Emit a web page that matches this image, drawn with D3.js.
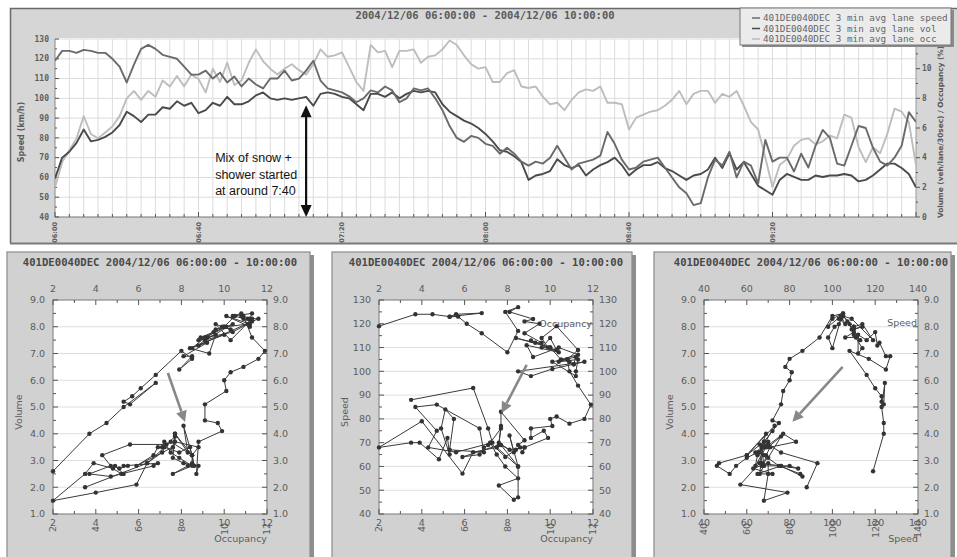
<!DOCTYPE html>
<html>
<head>
<meta charset="utf-8">
<title>401DE0040DEC 2004/12/06 06:00 - 10:00</title>
<script src="https://cdn.jsdelivr.net/npm/d3@7/dist/d3.min.js"></script>
<style>
  html, body { margin: 0; padding: 0; background: #ffffff; }
  svg { display: block; }
</style>
</head>
<body>
<svg id="chart" width="957" height="557"></svg>
<script>
// Loop detector 401DE0040DEC, 2004/12/06 06:00-10:00, one sample every 2 minutes
const detector = "401DE0040DEC";
const sampleMinutes = d3.range(0, 241, 2); // minutes after 06:00

// 3-min average lane speed (km/h)
const speed = [
  119, 124, 124, 123, 124.5, 124, 123, 123, 120, 116,
  108, 117, 125, 127, 125, 122, 121, 120, 116, 112,
  112, 114, 110, 113, 108, 111, 106, 110, 107, 105,
  110, 110, 114, 109, 110, 114, 119, 109, 105, 104,
  103, 101, 98, 100, 104, 103, 106, 104, 98, 100,
  105, 104, 105, 100, 94, 86, 80, 78, 81, 80,
  77, 76, 72, 75, 72, 68, 66, 68, 67, 70,
  76, 70, 64, 67, 68, 69, 71, 83, 77, 69,
  64, 65, 68, 69, 70, 65, 60, 55, 52, 46,
  47, 60, 69, 66, 73, 60, 68, 66, 57, 79,
  68, 70, 70, 63, 72, 65, 76, 84, 80, 67,
  66, 76, 86, 85, 75, 68, 66, 70, 76, 93,
  88
];

// 3-min average lane volume (veh/lane/30sec)
const volume = [
  2.6, 4.0, 4.4, 5.0, 5.9, 5.1, 5.2, 5.4, 5.7, 6.2,
  7.1, 6.8, 6.4, 6.9, 6.9, 7.4, 7.3, 7.8, 7.5, 7.7,
  7.0, 7.2, 7.7, 7.5, 8.1, 7.6, 7.6, 7.8, 8.2, 8.4,
  8.0, 7.9, 8.0, 7.9, 8.0, 8.1, 7.5, 8.3, 8.4, 8.3,
  8.1, 8.0, 7.6, 7.2, 8.3, 8.3, 8.1, 8.4, 8.0, 8.3,
  8.5, 8.4, 8.5, 8.4, 7.6, 7.1, 6.8, 6.5, 6.3, 6.0,
  5.6, 5.1, 4.5, 4.4, 4.1, 3.7, 2.5, 2.8, 2.9, 3.1,
  3.9, 3.5, 3.3, 3.5, 2.8, 3.2, 3.5, 3.7, 4.0, 3.5,
  2.8, 3.2, 3.5, 3.5, 3.7, 3.3, 3.1, 2.8, 2.5, 2.8,
  2.9, 3.2, 4.0, 3.3, 4.3, 3.2, 3.7, 2.9, 2.1, 1.8,
  1.5, 2.5, 2.9, 2.7, 2.5, 2.5, 2.8, 2.7, 2.8, 2.8,
  2.9, 2.8, 2.4, 2.5, 2.8, 3.2, 3.6, 3.6, 3.3, 2.9,
  2.0
];

// 3-min average lane occupancy (%)
const occupancy = [
  2.0, 3.7, 4.5, 5.3, 6.8, 5.6, 5.3, 5.7, 6.1, 6.8,
  8.0, 8.5, 7.9, 8.5, 8.1, 9.2, 8.8, 9.5, 8.8, 9.6,
  9.3, 8.4, 10.0, 9.1, 10.4, 8.9, 9.2, 10.4, 11.3, 10.5,
  10.0, 9.6, 10.0, 10.3, 9.9, 9.6, 10.3, 11.3, 10.8, 10.9,
  11.1, 10.1, 9.1, 8.5, 11.6, 11.1, 11.2, 10.1, 11.2, 11.2,
  11.3, 10.4, 10.8, 10.9, 11.3, 11.9, 11.6, 10.9, 10.3, 10.0,
  10.1, 9.1, 9.1, 9.7, 9.9, 8.8, 8.7, 8.8, 8.1, 7.6,
  7.7, 7.2, 7.9, 8.4, 8.6, 8.5, 8.8, 7.7, 7.7, 7.6,
  5.9, 6.7, 6.9, 7.1, 7.2, 7.5, 7.9, 8.5, 7.6, 8.3,
  8.5, 8.5, 7.7, 8.3, 8.1, 8.5, 7.5, 6.4, 5.9, 4.0,
  2.0, 3.5, 3.9, 4.8, 5.2, 5.3, 4.9, 5.1, 5.5, 5.3,
  6.9, 6.7, 4.7, 3.7, 4.7, 4.3, 5.6, 7.3, 7.1, 6.4,
  3.5
];

// axis ticks and labels
const timeTickMinutes = [0, 40, 80, 120, 160, 200];
const timeTickLabels = ["06:00", "06:40", "07:20", "08:00", "08:40", "09:20"];
const speedAxisTicks = [40, 50, 60, 70, 80, 90, 100, 110, 120, 130];
const rightAxisTicks = [0, 2, 4, 6, 8, 10];
const occupancyTicks = [2, 4, 6, 8, 10, 12];
const volumeTicks = [1, 2, 3, 4, 5, 6, 7, 8, 9];
const speedTicks20 = [40, 60, 80, 100, 120, 140];

const seriesNames = ["speed", "vol", "occ"];
const seriesColors = ["#6a6a6a", "#4a4a4a", "#bdbdbd"];
const legendLabels = seriesNames.map(n => detector + " 3 min avg lane " + n);
const topTitle = "2004/12/06 06:00:00 - 2004/12/06 10:00:00";
const panelTitle = detector + " 2004/12/06 06:00:00 - 10:00:00";
const annotationLines = ["Mix of snow +", "shower started", "at around 7:40"];
const annotationMinute = 70;           // where the double arrow stands
const annotationSpeedRange = [96.5, 40];

const samples = sampleMinutes.map((m, i) => ({
  m, speed: speed[i], volume: volume[i], occupancy: occupancy[i]
}));

const MONO = "'DejaVu Sans Mono', 'Liberation Mono', monospace";
const SANS = "'DejaVu Sans', Verdana, sans-serif";
const svg = d3.select("#chart");

// ================= top time-series panel =================
(function drawTimeSeries() {
  const g = svg.append("g");
  g.append("rect").attr("x", 10).attr("y", 8).attr("width", 947).attr("height", 235)
    .attr("fill", "#d6d6d6");
  g.append("path").attr("d", "M10.5,243V8.5H957").attr("fill", "none")
    .attr("stroke", "#6a6a6a").attr("stroke-width", 1.5);
  g.append("path").attr("d", "M10,243.5H957").attr("fill", "none")
    .attr("stroke", "#7a7a7a").attr("stroke-width", 2);

  const x = d3.scaleLinear().domain([0, 240]).range([55, 916]);
  const yS = d3.scaleLinear().domain([40, 130]).range([217, 39]);
  const yR = d3.scaleLinear().domain([0, 12]).range([217, 39]);

  g.append("rect").attr("x", x(0)).attr("y", yS(130) - 1)
    .attr("width", x(240) - x(0)).attr("height", yS(40) - yS(130) + 1).attr("fill", "#ffffff");

  // grid
  g.append("g").selectAll("line").data(d3.range(4, 240, 4)).join("line")
    .attr("x1", d => x(d)).attr("x2", d => x(d))
    .attr("y1", yS(130)).attr("y2", yS(40))
    .attr("stroke", "#dcdcdc").attr("stroke-width", 1);
  g.append("g").selectAll("line").data(speedAxisTicks.slice(1)).join("line")
    .attr("x1", x(0)).attr("x2", x(240))
    .attr("y1", d => yS(d)).attr("y2", d => yS(d))
    .attr("stroke", "#dcdcdc").attr("stroke-width", 1);

  // axis lines
  g.append("line").attr("x1", x(0)).attr("x2", x(240)).attr("y1", yS(40)).attr("y2", yS(40))
    .attr("stroke", "#777").attr("stroke-width", 1.2);
  g.append("line").attr("x1", x(0)).attr("x2", x(0)).attr("y1", yS(130)).attr("y2", yS(40))
    .attr("stroke", "#888").attr("stroke-width", 1);
  g.append("line").attr("x1", x(240)).attr("x2", x(240)).attr("y1", yS(130)).attr("y2", yS(40))
    .attr("stroke", "#999").attr("stroke-width", 1);

  // bottom ticks every 4 min
  g.append("g").selectAll("line").data(d3.range(0, 241, 4)).join("line")
    .attr("x1", d => x(d)).attr("x2", d => x(d))
    .attr("y1", yS(40)).attr("y2", d => yS(40) - (d % 40 === 0 ? 5 : 3))
    .attr("stroke", "#555").attr("stroke-width", 1);

  // left ticks
  g.append("g").selectAll("line").data(d3.range(40, 131, 5)).join("line")
    .attr("x1", x(0)).attr("x2", d => x(0) + (d % 10 === 0 ? 4 : 2))
    .attr("y1", d => yS(d)).attr("y2", d => yS(d))
    .attr("stroke", "#555");
  // right ticks
  g.append("g").selectAll("line").data(d3.range(0, 13, 1)).join("line")
    .attr("x1", x(240)).attr("x2", d => x(240) + (d % 2 === 0 ? 4 : 2))
    .attr("y1", d => yR(d)).attr("y2", d => yR(d))
    .attr("stroke", "#555");

  // left tick labels
  g.append("g").selectAll("text").data(speedAxisTicks).join("text")
    .attr("x", x(0) - 6).attr("y", d => yS(d)).attr("dy", "0.33em")
    .attr("text-anchor", "end").attr("font-family", MONO).attr("font-size", 8)
    .attr("font-weight", "bold").attr("fill", "#5e5e5e").text(d => d);
  // right tick labels (the top one sits under the legend box)
  g.append("g").selectAll("text").data(rightAxisTicks).join("text")
    .attr("x", x(240) + 6).attr("y", d => yR(d)).attr("dy", "0.33em")
    .attr("font-family", MONO).attr("font-size", 8)
    .attr("font-weight", "bold").attr("fill", "#5e5e5e").text(d => d);
  // time labels, rotated
  g.append("g").selectAll("text").data(timeTickMinutes).join("text")
    .attr("transform", d => `translate(${x(d)},${yS(40) + 5}) rotate(-90)`)
    .attr("dy", "0.35em").attr("text-anchor", "end")
    .attr("font-family", SANS).attr("font-size", 6.5).attr("font-weight", "bold")
    .attr("fill", "#5e5e5e").text((d, i) => timeTickLabels[i]);

  // axis titles
  g.append("text").attr("transform", `translate(24,${(yS(130) + yS(40)) / 2 + 4}) rotate(-90)`)
    .attr("text-anchor", "middle").attr("font-family", SANS).attr("font-size", 8)
    .attr("font-weight", "bold").attr("fill", "#5a5a5a").text("Speed (km/h)");
  g.append("text").attr("transform", `translate(943,${(yS(130) + yS(40)) / 2 + 4}) rotate(-90)`)
    .attr("text-anchor", "middle").attr("font-family", SANS).attr("font-size", 7.4)
    .attr("font-weight", "bold").attr("fill", "#5a5a5a")
    .text("Volume (veh/lane/30sec) / Occupancy (%)");

  // title
  g.append("text").attr("x", 485).attr("y", 19).attr("text-anchor", "middle")
    .attr("font-family", MONO).attr("font-size", 10.5).attr("font-weight", "bold")
    .attr("fill", "#5a5a5a").text(topTitle);

  // series lines
  svg.append("clipPath").attr("id", "topclip").append("rect")
    .attr("x", x(0)).attr("y", yS(130) - 2).attr("width", x(240) - x(0)).attr("height", yS(40) - yS(130) + 4);
  const lines = g.append("g").attr("clip-path", "url(#topclip)");
  const accessors = [
    d => yS(d.speed),
    d => yR(d.volume),
    d => yR(d.occupancy)
  ];
  [2, 1, 0].forEach(k => {
    lines.append("path").datum(samples)
      .attr("d", d3.line().x(d => x(d.m)).y(accessors[k]))
      .attr("fill", "none").attr("stroke", seriesColors[k])
      .attr("stroke-width", 1.9).attr("stroke-linejoin", "round");
  });

  // annotation: double arrow and text
  const ax = x(annotationMinute);
  const ay0 = yS(annotationSpeedRange[0]), ay1 = yS(annotationSpeedRange[1]);
  g.append("line").attr("x1", ax).attr("x2", ax).attr("y1", ay0 + 8).attr("y2", ay1 - 8)
    .attr("stroke", "#111").attr("stroke-width", 2.2);
  g.append("path").attr("d", `M${ax},${ay0}L${ax - 5.5},${ay0 + 12}L${ax + 5.5},${ay0 + 12}Z`).attr("fill", "#111");
  g.append("path").attr("d", `M${ax},${ay1}L${ax - 5.5},${ay1 - 12}L${ax + 5.5},${ay1 - 12}Z`).attr("fill", "#111");
  g.append("g").selectAll("text").data(annotationLines).join("text")
    .attr("x", ax - 91).attr("y", (d, i) => 162 + i * 16.5)
    .attr("font-family", "'Liberation Sans', Arial, sans-serif").attr("font-size", 12.5)
    .attr("fill", "#151515").text(d => d);

  // legend
  const lg = svg.append("g");
  lg.append("rect").attr("x", 742).attr("y", 10).attr("width", 212).attr("height", 37).attr("fill", "#8a8a8a");
  lg.append("rect").attr("x", 740).attr("y", 8).attr("width", 211).attr("height", 37)
    .attr("fill", "#ebebeb").attr("stroke", "#777").attr("stroke-width", 1);
  legendLabels.forEach((t, i) => {
    const yy = 18 + i * 10.5;
    lg.append("line").attr("x1", 752).attr("x2", 760).attr("y1", yy).attr("y2", yy)
      .attr("stroke", seriesColors[i]).attr("stroke-width", 1.5);
    lg.append("text").attr("x", 763).attr("y", yy).attr("dy", "0.33em")
      .attr("font-family", MONO).attr("font-size", 9.3).attr("fill", "#666").text(t);
  });
})();

// ================= lower scatter panels =================
function scatterPanel(o) {
  const g = svg.append("g");
  const fy = 252, fh = 320, size = 214, pTop = 300;
  g.append("rect").attr("x", o.frameX + 4).attr("y", fy + 3).attr("width", o.frameW).attr("height", fh)
    .attr("fill", "#8e8e8e");
  g.append("rect").attr("x", o.frameX).attr("y", fy).attr("width", o.frameW).attr("height", fh)
    .attr("fill", "#d1d1d1").attr("stroke", "#8a8a8a").attr("stroke-width", 1.2);

  const sx = d3.scaleLinear().domain(o.xDomain).range([o.plotX, o.plotX + size]);
  const sy = d3.scaleLinear().domain(o.yDomain).range([pTop + size, pTop]);
  const midX = o.plotX + size / 2;

  g.append("text").attr("x", midX).attr("y", 266).attr("text-anchor", "middle")
    .attr("font-family", MONO).attr("font-size", 10.6).attr("font-weight", "bold")
    .attr("fill", "#484848").text(panelTitle);

  g.append("rect").attr("x", sx(o.xDomain[0])).attr("y", sy(o.yDomain[1]))
    .attr("width", size).attr("height", size).attr("fill", "#ffffff");
  // horizontal grid
  g.append("g").selectAll("line").data(o.yTicks.slice(1, -1)).join("line")
    .attr("x1", sx(o.xDomain[0])).attr("x2", sx(o.xDomain[1]))
    .attr("y1", d => sy(d)).attr("y2", d => sy(d))
    .attr("stroke", "#dedede").attr("stroke-width", 1);
  // frame of plot
  g.append("rect").attr("x", sx(o.xDomain[0])).attr("y", sy(o.yDomain[1]))
    .attr("width", size).attr("height", size).attr("fill", "none")
    .attr("stroke", "#8a8a8a").attr("stroke-width", 1.2);

  // ticks: top / bottom and left / right, majors longer than minors
  const tk = g.append("g").attr("stroke", "#555").attr("stroke-width", 1);
  o.xMinor.forEach(v => {
    const len = o.xTicks.includes(v) ? 5 : 3;
    tk.append("line").attr("x1", sx(v)).attr("x2", sx(v)).attr("y1", sy(o.yDomain[1])).attr("y2", sy(o.yDomain[1]) + len);
    tk.append("line").attr("x1", sx(v)).attr("x2", sx(v)).attr("y1", sy(o.yDomain[0])).attr("y2", sy(o.yDomain[0]) - len);
  });
  o.yMinor.forEach(v => {
    const len = o.yTicks.includes(v) ? 5 : 3;
    tk.append("line").attr("x1", sx(o.xDomain[0])).attr("x2", sx(o.xDomain[0]) + len).attr("y1", sy(v)).attr("y2", sy(v));
    tk.append("line").attr("x1", sx(o.xDomain[1])).attr("x2", sx(o.xDomain[1]) - len).attr("y1", sy(v)).attr("y2", sy(v));
  });

  const lab = { "font-family": SANS, "font-size": 9.5, "fill": "#5c5c5c" };
  const styl = sel => { Object.entries(lab).forEach(([k, v]) => sel.attr(k, v)); return sel; };
  // top labels
  styl(g.append("g").selectAll("text").data(o.xTicks).join("text")
    .attr("x", d => sx(d)).attr("y", 292).attr("text-anchor", "middle").text(d => d));
  // bottom labels: horizontal plus a rotated copy on the same spot
  styl(g.append("g").selectAll("text").data(o.xTicks).join("text")
    .attr("x", d => sx(d)).attr("y", 526).attr("text-anchor", "middle").text(d => d));
  styl(g.append("g").selectAll("text").data(o.xTicks).join("text")
    .attr("transform", d => `translate(${sx(d)},${529}) rotate(-90)`)
    .attr("dy", "0.35em").attr("text-anchor", "middle").attr("font-size", 7).text(d => d));
  // left / right labels
  styl(g.append("g").selectAll("text").data(o.yTicks).join("text")
    .attr("x", sx(o.xDomain[0]) - 8).attr("y", d => sy(d)).attr("dy", "0.35em")
    .attr("text-anchor", "end").text(o.yFmt));
  styl(g.append("g").selectAll("text").data(o.yTicks).join("text")
    .attr("x", sx(o.xDomain[1]) + 6).attr("y", d => sy(d)).attr("dy", "0.35em")
    .text(o.yFmt));

  // axis titles
  styl(g.append("text").attr("x", sx(o.xDomain[1])).attr("y", 542).attr("text-anchor", "end")
    .attr("font-size", 9).attr("fill", "#666").text(o.xTitle));
  styl(g.append("text").attr("transform", `translate(${o.plotX - 31},${sy((o.yDomain[0] + o.yDomain[1]) / 2) + 5}) rotate(-90)`)
    .attr("text-anchor", "middle").attr("font-size", 9).attr("fill", "#666").text(o.yTitle));
  if (o.seriesLabel) {
    styl(g.append("text").attr("x", sx(o.xDomain[1]) - 1).attr("y", sy(o.seriesLabelY)).attr("dy", "0.35em")
      .attr("text-anchor", "end").attr("font-size", 9).attr("fill", "#777").text(o.seriesLabel));
  }

  // trajectory
  const cid = "clip" + o.id;
  svg.append("clipPath").attr("id", cid).append("rect")
    .attr("x", o.plotX - 3).attr("y", pTop - 3).attr("width", size + 6).attr("height", size + 6);
  const data = g.append("g").attr("clip-path", `url(#${cid})`);
  data.append("path").datum(samples)
    .attr("d", d3.line().x(d => sx(d[o.xKey])).y(d => sy(d[o.yKey])))
    .attr("fill", "none").attr("stroke", "#3a3a3a").attr("stroke-width", 1);
  data.append("g").selectAll("circle").data(samples).join("circle")
    .attr("cx", d => sx(d[o.xKey])).attr("cy", d => sy(d[o.yKey])).attr("r", 2.2)
    .attr("fill", "#333");

  // transition arrow
  const [x0, y0] = [sx(o.arrow[0][0]), sy(o.arrow[0][1])];
  const [x1, y1] = [sx(o.arrow[1][0]), sy(o.arrow[1][1])];
  const ang = Math.atan2(y1 - y0, x1 - x0);
  const hl = 11, hw = 5.5;
  const bx = x1 - hl * Math.cos(ang), by = y1 - hl * Math.sin(ang);
  g.append("line").attr("x1", x0).attr("y1", y0).attr("x2", bx).attr("y2", by)
    .attr("stroke", "#888").attr("stroke-width", 2.6);
  g.append("path").attr("d",
    `M${x1},${y1}L${bx + hw * Math.sin(ang)},${by - hw * Math.cos(ang)}L${bx - hw * Math.sin(ang)},${by + hw * Math.cos(ang)}Z`)
    .attr("fill", "#888");
}

const fmt1 = d => d.toFixed(1);

scatterPanel({
  id: 1, frameX: 7, frameW: 303, plotX: 53,
  xDomain: [2, 12], xTicks: occupancyTicks, xMinor: d3.range(2, 13, 1),
  yDomain: [1, 9], yTicks: volumeTicks, yMinor: d3.range(1, 9.01, 0.5),
  yFmt: fmt1, xKey: "occupancy", yKey: "volume",
  xTitle: "Occupancy", yTitle: "Volume",
  arrow: [[7.37, 6.27], [8.17, 4.44]]
});

scatterPanel({
  id: 2, frameX: 332, frameW: 300, plotX: 379,
  xDomain: [2, 12], xTicks: occupancyTicks, xMinor: d3.range(2, 13, 1),
  yDomain: [40, 130], yTicks: speedAxisTicks, yMinor: d3.range(40, 131, 5),
  yFmt: d => d, xKey: "occupancy", yKey: "speed",
  xTitle: "Occupancy", yTitle: "Speed",
  seriesLabel: "Occupancy", seriesLabelY: 120,
  arrow: [[8.9, 102.7], [7.73, 82.5]]
});

scatterPanel({
  id: 3, frameX: 654, frameW: 297, plotX: 704,
  xDomain: [40, 140], xTicks: speedTicks20, xMinor: d3.range(40, 141, 10),
  yDomain: [1, 9], yTicks: volumeTicks, yMinor: d3.range(1, 9.01, 0.5),
  yFmt: fmt1, xKey: "speed", yKey: "volume",
  xTitle: "Speed", yTitle: "Volume",
  seriesLabel: "Speed", seriesLabelY: 8.15,
  arrow: [[104.8, 6.5], [81.3, 4.45]]
});
</script>
</body>
</html>
